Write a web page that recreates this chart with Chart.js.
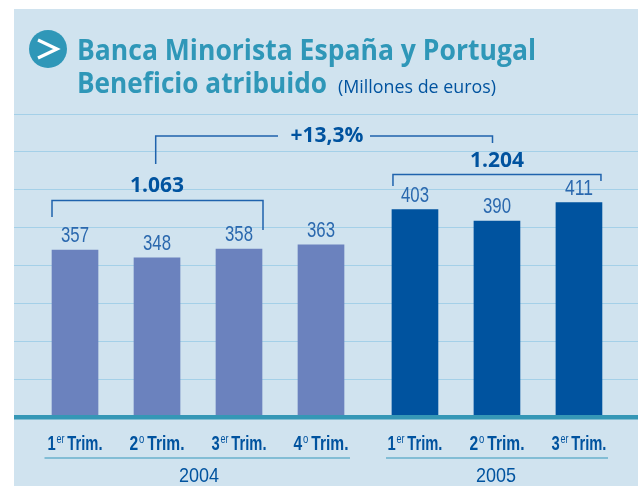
<!DOCTYPE html>
<html><head><meta charset="utf-8">
<style>html,body{margin:0;padding:0;background:#fff}#w{position:absolute;left:0;top:0;width:644px;height:486px}</style>
<script src="https://cdn.jsdelivr.net/npm/chart.js@4"></script></head>
<body><div id="w"><canvas id="c" width="644" height="486"></canvas></div>
<script>
const categories2004 = ["1er Trim.","2o Trim.","3er Trim.","4o Trim."];
const categories2005 = ["1er Trim.","2o Trim.","3er Trim."];
const values2004 = [357,348,358,363];
const values2005 = [403,390,411];
const years = ["2004","2005"];
const totals = ["1.063","1.204"];
const growth = "+13,3%";
const titleLine1 = "Banca Minorista España y Portugal";
const titleLine2 = "Beneficio atribuido";
const unitText = "(Millones de euros)";

const YEAR_GAP = 0.146, Y_MIN = 167, Y_STEP = 43.1, Y_COUNT = 8;
const BLUE = "#00539f", TEAL = "#2f97b8";
const x2004 = values2004.map((_, i) => i);
const x2005 = values2005.map((_, i) => i + values2004.length + YEAR_GAP);
const allX = x2004.concat(x2005);
const allCats = categories2004.concat(categories2005);
const SANS = '"Liberation Sans",sans-serif';

function line(g, pts){ g.beginPath(); pts.forEach((p,i)=> i? g.lineTo(p[0],p[1]) : g.moveTo(p[0],p[1])); g.stroke(); }

function tickLabel(g, text, cx, y){
  const m = text.match(/^(\d)(\w+) (.*)$/);
  const big = 'bold 20.5px ' + SANS, small = '12.5px ' + SANS;
  g.font = big; const w1 = g.measureText(m[1]).width, w3 = g.measureText(m[3]).width;
  g.font = small; const w2 = g.measureText(m[2]).width;
  const gap = 4, total = w1 + w2 + w3 + gap + 1, k = 55 / total;
  g.save(); g.translate(cx - 27.5, y); g.scale(k, 1); g.textAlign = "left";
  g.font = big; g.fillText(m[1], 0, 0);
  g.font = small; g.fillText(m[2], w1 + 1, -7);
  g.font = big; g.fillText(m[3], w1 + w2 + gap + 1, 0);
  g.restore();
}

const overlay = {
  id: "overlay",
  beforeDraw(ch) {
    const g = ch.ctx;
    g.save(); g.fillStyle = "#d0e3ef"; g.fillRect(14, 9, 624, 477); g.restore();
  },
  afterDatasetsDraw(ch) {
    const g = ch.ctx, a = ch.chartArea;
    g.save(); g.fillStyle = "#3597b6"; g.fillRect(a.left, a.bottom - 2, a.right - a.left, 4.5); g.restore();
  },
  afterDraw(ch) {
    const g = ch.ctx, X = ch.scales.x, Y = ch.scales.y;
    const px = v => X.getPixelForValue(v), py = v => Y.getPixelForValue(v);
    g.save();
    // badge
    g.fillStyle = TEAL; g.beginPath(); g.arc(48, 49, 19, 0, 2*Math.PI); g.fill();
    g.strokeStyle = "#fff"; g.lineWidth = 3.2; g.beginPath(); g.moveTo(38, 40); g.lineTo(57, 49); g.lineTo(38, 58); g.stroke();
    // title
    g.textBaseline = "alphabetic"; g.textAlign = "left";
    g.fillStyle = TEAL; g.font = 'bold 29px "Open Sans",sans-serif';
    g.fillText(titleLine1, 77, 60, 459);
    g.fillText(titleLine2, 77, 93, 250);
    g.fillStyle = BLUE; g.font = '19px "Open Sans",sans-serif';
    g.fillText(unitText, 338, 93, 158);
    // value labels
    g.textAlign = "center"; g.fillStyle = "#2a68ae"; g.font = '22px ' + SANS;
    [[x2004, values2004],[x2005, values2005]].forEach(([xs, vs]) =>
      vs.forEach((v, i) => g.fillText(String(v), px(xs[i]), py(v) - 8, 28)));
    // brackets
    g.strokeStyle = "#1f63ad"; g.lineWidth = 1.5;
    const half = 23;
    line(g, [[px(x2004[0]) - half, 217],[px(x2004[0]) - half, 200.5],[px(x2004[2]) + half + 1, 200.5],[px(x2004[2]) + half + 1, 230]]);
    line(g, [[px(x2005[0]) - half + 1, 186],[px(x2005[0]) - half + 1, 174.5],[px(x2005[2]) + half - 1, 174.5],[px(x2005[2]) + half - 1, 181]]);
    line(g, [[155.7, 164],[155.7, 136],[278, 136]]);
    line(g, [[370, 136],[492.5, 136],[492.5, 143]]);
    // totals
    g.fillStyle = BLUE; g.font = 'bold 21px "Open Sans",sans-serif';
    g.fillText(totals[0], px(x2004[1]), 192);
    g.fillText(totals[1], px(x2005[1]), 167);
    g.fillText(growth, 327, 142);
    // axis labels
    allX.forEach((v, i) => tickLabel(g, allCats[i], px(v), 450));
    // year rules
    g.strokeStyle = "#69b1cd"; g.lineWidth = 1.6;
    line(g, [[44.5, 458],[350, 458]]);
    line(g, [[386, 458],[608, 458]]);
    g.textAlign = "center"; g.fillStyle = BLUE; g.font = '21px ' + SANS;
    g.fillText(years[0], 199, 482, 40);
    g.fillText(years[1], 496, 482, 40);
    g.restore();
  }
};

new Chart(document.getElementById("c"), {
  type: "bar",
  data: { datasets: [
    { label: years[0], data: values2004.map((v,i)=>({x:x2004[i], y:v})), backgroundColor: "#6b82be", barThickness: 46, grouped:false },
    { label: years[1], data: values2005.map((v,i)=>({x:x2005[i], y:v})), backgroundColor: "#00539f", barThickness: 46, grouped:false }
  ]},
  options: {
    responsive:false, animation:false,
    layout:{ padding:{ left:14, right:6, top:114, bottom:0 } },
    plugins:{ legend:{display:false}, tooltip:{enabled:false}, title:{display:false} },
    scales:{
      x:{ type:"linear", offset:false, min:-0.744, max:6.866,
        afterFit(s){ s.height = 69; },
        afterBuildTicks(s){ s.ticks = allX.map(v=>({value:v})); },
        grid:{ display:false },
        border:{ display:false },
        ticks:{ display:false, autoSkip:false,
          callback(v){ const i = allX.indexOf(v); return i<0 ? "" : allCats[i]; } }
      },
      y:{ min:Y_MIN, max:Y_MIN+Y_STEP*Y_COUNT,
        afterFit(s){ s.width = 0; },
        ticks:{ display:false, stepSize:Y_STEP },
        grid:{ color:"#a4d0e8", lineWidth:1, drawTicks:false },
        border:{ display:false }
      }
    }
  },
  plugins:[overlay]
});
</script></body></html>
